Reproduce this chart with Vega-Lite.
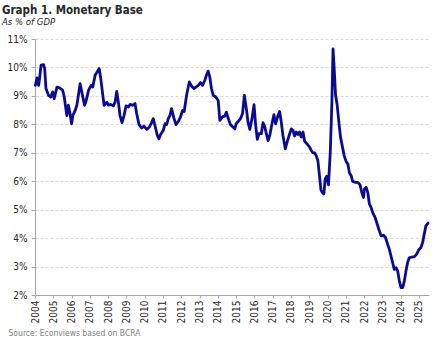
{
  "$schema": "https://vega.github.io/schema/vega-lite/v6.json",
  "autosize": "none",
  "width": 394,
  "height": 256,
  "padding": {"left": 35, "top": 39, "right": 14, "bottom": 45},
  "background": "white",
  "config": {"view": {"stroke": null}, "font": "DejaVu Sans Condensed, DejaVu Sans"},
  "title": {
    "text": "Graph 1. Monetary Base",
    "subtitle": "As % of GDP",
    "anchor": "start",
    "frame": "group",
    "dx": -33,
    "offset": 8,
    "font": "DejaVu Sans Condensed, DejaVu Sans",
    "fontSize": 11.5,
    "fontWeight": "bold",
    "color": "#262626",
    "subtitleFont": "DejaVu Sans Condensed, DejaVu Sans",
    "subtitleFontSize": 9.5,
    "subtitleFontStyle": "italic",
    "subtitleColor": "#262626",
    "subtitlePadding": 0
  },
  "data": {
    "values": [
      {"t": 2004.02, "v": 9.37}, {"t": 2004.11, "v": 9.63}, {"t": 2004.2, "v": 9.37}, {"t": 2004.25, "v": 9.6},
      {"t": 2004.33, "v": 10.08}, {"t": 2004.47, "v": 10.1}, {"t": 2004.53, "v": 9.95}, {"t": 2004.6, "v": 9.26},
      {"t": 2004.74, "v": 9.02}, {"t": 2004.87, "v": 8.96}, {"t": 2004.96, "v": 9.14}, {"t": 2005.05, "v": 8.9},
      {"t": 2005.2, "v": 9.31}, {"t": 2005.34, "v": 9.28}, {"t": 2005.51, "v": 9.2}, {"t": 2005.6, "v": 8.96},
      {"t": 2005.74, "v": 8.31}, {"t": 2005.83, "v": 8.67}, {"t": 2005.91, "v": 8.4}, {"t": 2006.0, "v": 8.02},
      {"t": 2006.07, "v": 8.31}, {"t": 2006.2, "v": 8.49}, {"t": 2006.29, "v": 8.67}, {"t": 2006.47, "v": 9.43},
      {"t": 2006.56, "v": 9.14}, {"t": 2006.71, "v": 8.67}, {"t": 2006.8, "v": 8.84}, {"t": 2006.93, "v": 9.2},
      {"t": 2007.07, "v": 9.37}, {"t": 2007.16, "v": 9.31}, {"t": 2007.29, "v": 9.73}, {"t": 2007.38, "v": 9.82},
      {"t": 2007.51, "v": 9.96}, {"t": 2007.6, "v": 9.6}, {"t": 2007.71, "v": 9.02}, {"t": 2007.78, "v": 8.67},
      {"t": 2007.93, "v": 8.78}, {"t": 2008.02, "v": 8.67}, {"t": 2008.14, "v": 8.7}, {"t": 2008.29, "v": 8.65},
      {"t": 2008.38, "v": 8.78}, {"t": 2008.47, "v": 9.16}, {"t": 2008.56, "v": 8.78}, {"t": 2008.65, "v": 8.31},
      {"t": 2008.76, "v": 8.06}, {"t": 2008.87, "v": 8.31}, {"t": 2008.98, "v": 8.65}, {"t": 2009.11, "v": 8.61},
      {"t": 2009.2, "v": 8.7}, {"t": 2009.34, "v": 8.67}, {"t": 2009.47, "v": 8.73}, {"t": 2009.56, "v": 8.38},
      {"t": 2009.69, "v": 7.99}, {"t": 2009.84, "v": 7.87}, {"t": 2009.96, "v": 7.94}, {"t": 2010.11, "v": 7.82},
      {"t": 2010.25, "v": 7.9}, {"t": 2010.38, "v": 8.06}, {"t": 2010.47, "v": 8.2}, {"t": 2010.56, "v": 7.96},
      {"t": 2010.69, "v": 7.61}, {"t": 2010.78, "v": 7.49}, {"t": 2010.87, "v": 7.64}, {"t": 2011.02, "v": 7.79},
      {"t": 2011.11, "v": 8.02}, {"t": 2011.2, "v": 7.99}, {"t": 2011.29, "v": 8.2}, {"t": 2011.38, "v": 8.31},
      {"t": 2011.47, "v": 8.55}, {"t": 2011.6, "v": 8.22}, {"t": 2011.71, "v": 7.99}, {"t": 2011.84, "v": 8.1},
      {"t": 2011.96, "v": 8.26}, {"t": 2012.07, "v": 8.49}, {"t": 2012.16, "v": 8.45}, {"t": 2012.29, "v": 9.02},
      {"t": 2012.44, "v": 9.49}, {"t": 2012.56, "v": 9.35}, {"t": 2012.69, "v": 9.26}, {"t": 2012.8, "v": 9.31},
      {"t": 2012.93, "v": 9.37}, {"t": 2013.05, "v": 9.47}, {"t": 2013.16, "v": 9.37}, {"t": 2013.29, "v": 9.55},
      {"t": 2013.38, "v": 9.73}, {"t": 2013.47, "v": 9.87}, {"t": 2013.56, "v": 9.67}, {"t": 2013.65, "v": 9.26},
      {"t": 2013.75, "v": 9.02}, {"t": 2013.89, "v": 8.96}, {"t": 2014.02, "v": 8.84}, {"t": 2014.11, "v": 8.14},
      {"t": 2014.25, "v": 8.26}, {"t": 2014.38, "v": 8.29}, {"t": 2014.47, "v": 8.43}, {"t": 2014.56, "v": 8.22},
      {"t": 2014.69, "v": 7.99}, {"t": 2014.84, "v": 7.9}, {"t": 2014.93, "v": 7.84}, {"t": 2015.0, "v": 8.02},
      {"t": 2015.11, "v": 8.1}, {"t": 2015.24, "v": 8.2}, {"t": 2015.35, "v": 8.38}, {"t": 2015.45, "v": 9.02},
      {"t": 2015.56, "v": 8.55}, {"t": 2015.65, "v": 8.08}, {"t": 2015.75, "v": 7.82}, {"t": 2015.87, "v": 8.2},
      {"t": 2015.98, "v": 8.69}, {"t": 2016.07, "v": 7.96}, {"t": 2016.16, "v": 7.47}, {"t": 2016.25, "v": 7.67},
      {"t": 2016.38, "v": 7.67}, {"t": 2016.47, "v": 8.06}, {"t": 2016.56, "v": 7.94}, {"t": 2016.65, "v": 7.67},
      {"t": 2016.75, "v": 7.43}, {"t": 2016.84, "v": 7.61}, {"t": 2016.98, "v": 8.08}, {"t": 2017.07, "v": 8.34},
      {"t": 2017.16, "v": 8.02}, {"t": 2017.29, "v": 8.31}, {"t": 2017.38, "v": 8.45}, {"t": 2017.47, "v": 8.08},
      {"t": 2017.56, "v": 7.61}, {"t": 2017.69, "v": 7.14}, {"t": 2017.8, "v": 7.4}, {"t": 2017.93, "v": 7.67},
      {"t": 2018.02, "v": 7.84}, {"t": 2018.11, "v": 7.79}, {"t": 2018.2, "v": 7.59}, {"t": 2018.29, "v": 7.73},
      {"t": 2018.38, "v": 7.64}, {"t": 2018.47, "v": 7.73}, {"t": 2018.56, "v": 7.55}, {"t": 2018.66, "v": 7.73},
      {"t": 2018.75, "v": 7.4}, {"t": 2018.87, "v": 7.32}, {"t": 2019.02, "v": 7.2}, {"t": 2019.11, "v": 7.08},
      {"t": 2019.2, "v": 7.0}, {"t": 2019.29, "v": 7.0}, {"t": 2019.38, "v": 6.9}, {"t": 2019.47, "v": 6.73},
      {"t": 2019.56, "v": 6.2}, {"t": 2019.64, "v": 5.7}, {"t": 2019.71, "v": 5.61}, {"t": 2019.8, "v": 5.55},
      {"t": 2019.87, "v": 6.08}, {"t": 2019.96, "v": 6.18}, {"t": 2020.05, "v": 5.87}, {"t": 2020.15, "v": 7.02},
      {"t": 2020.24, "v": 8.79}, {"t": 2020.3, "v": 10.65}, {"t": 2020.36, "v": 10.02}, {"t": 2020.44, "v": 9.02},
      {"t": 2020.53, "v": 8.67}, {"t": 2020.62, "v": 8.08}, {"t": 2020.71, "v": 7.55}, {"t": 2020.8, "v": 7.26},
      {"t": 2020.91, "v": 6.9}, {"t": 2021.02, "v": 6.69}, {"t": 2021.11, "v": 6.61}, {"t": 2021.2, "v": 6.29},
      {"t": 2021.29, "v": 6.2}, {"t": 2021.38, "v": 5.99}, {"t": 2021.53, "v": 5.96}, {"t": 2021.66, "v": 5.96},
      {"t": 2021.78, "v": 5.87}, {"t": 2021.87, "v": 5.61}, {"t": 2021.97, "v": 5.43}, {"t": 2022.02, "v": 5.73},
      {"t": 2022.11, "v": 5.79}, {"t": 2022.2, "v": 5.61}, {"t": 2022.29, "v": 5.2}, {"t": 2022.38, "v": 5.08},
      {"t": 2022.47, "v": 4.9}, {"t": 2022.6, "v": 4.73}, {"t": 2022.69, "v": 4.55}, {"t": 2022.8, "v": 4.32},
      {"t": 2022.93, "v": 4.08}, {"t": 2023.06, "v": 4.1}, {"t": 2023.17, "v": 4.02}, {"t": 2023.29, "v": 3.78},
      {"t": 2023.38, "v": 3.61}, {"t": 2023.47, "v": 3.37}, {"t": 2023.56, "v": 3.14}, {"t": 2023.65, "v": 2.9},
      {"t": 2023.75, "v": 2.96}, {"t": 2023.84, "v": 2.84}, {"t": 2023.93, "v": 2.49}, {"t": 2024.02, "v": 2.26},
      {"t": 2024.11, "v": 2.26}, {"t": 2024.2, "v": 2.49}, {"t": 2024.29, "v": 2.84}, {"t": 2024.38, "v": 3.14},
      {"t": 2024.47, "v": 3.31}, {"t": 2024.6, "v": 3.33}, {"t": 2024.75, "v": 3.35}, {"t": 2024.87, "v": 3.43},
      {"t": 2024.98, "v": 3.58}, {"t": 2025.11, "v": 3.67}, {"t": 2025.2, "v": 3.84}, {"t": 2025.29, "v": 4.14},
      {"t": 2025.38, "v": 4.43}, {"t": 2025.5, "v": 4.53}
    ]
  },
  "mark": {"type": "line", "color": "#0a0a96", "strokeWidth": 2.8, "strokeJoin": "round", "strokeCap": "round", "clip": false},
  "encoding": {
    "x": {
      "field": "t",
      "type": "quantitative",
      "scale": {"domain": [2004, 2025.55], "nice": false, "zero": false},
      "axis": {
        "values": [2004, 2005, 2006, 2007, 2008, 2009, 2010, 2011, 2012, 2013, 2014, 2015, 2016, 2017, 2018, 2019, 2020, 2021, 2022, 2023, 2024, 2025],
        "format": "d",
        "labelAngle": -90,
        "labelPadding": 2,
        "labelFontSize": 10,
        "labelColor": "#262626",
        "labelFlush": false,
        "labelOverlap": false,
        "tickSize": 3,
        "tickColor": "#a6a6a6",
        "domainColor": "#a6a6a6",
        "grid": false,
        "title": "Source: Econviews based on BCRA",
        "titleX": -27,
        "titleY": 40,
        "titleAlign": "left",
        "titleAnchor": "start",
        "titleBaseline": "alphabetic",
        "titleFontSize": 8.5,
        "titleFontWeight": "normal",
        "titleColor": "#808080"
      }
    },
    "y": {
      "field": "v",
      "type": "quantitative",
      "scale": {"domain": [2, 11], "nice": false, "zero": false},
      "axis": {
        "values": [2, 3, 4, 5, 6, 7, 8, 9, 10, 11],
        "labelExpr": "datum.value + '%'",
        "labelFontSize": 10,
        "labelColor": "#262626",
        "labelPadding": 4,
        "tickSize": 4,
        "tickColor": "#a6a6a6",
        "domainColor": "#a6a6a6",
        "grid": true,
        "gridColor": "#d9d9d9",
        "gridDash": [3, 2],
        "title": null
      }
    }
  }
}
